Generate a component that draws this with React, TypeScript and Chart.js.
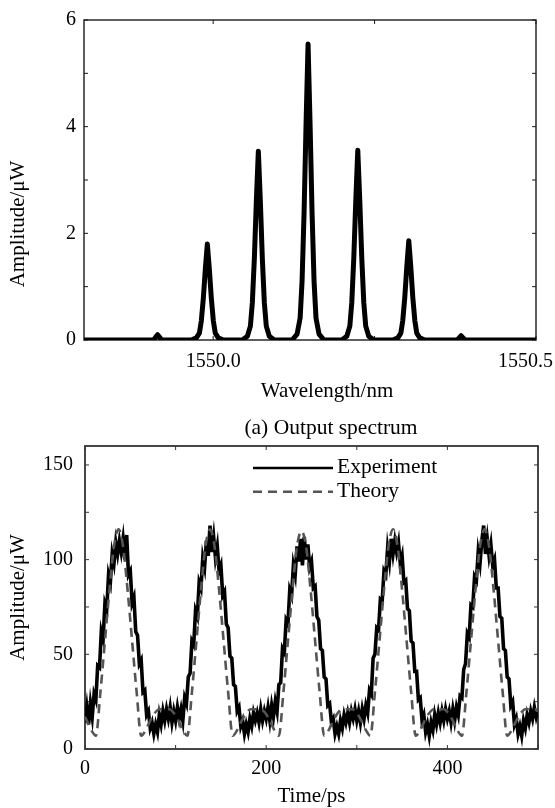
import React, { useEffect, useRef } from 'react';
import { Chart, registerables } from 'chart.js';

Chart.register(...registerables);

const FONT = "'Liberation Serif', 'Times New Roman', serif";

// ---------- (a) Output spectrum ----------
const SPEC_WAVELENGTH = [
  1549.8,
  1549.9078, 1549.9109, 1549.914, 1549.9171, 1549.9202,
  1549.9663, 1549.974, 1549.9787, 1549.9817, 1549.9848, 1549.9879, 1549.991, 1549.9941, 1549.9972, 1550.0003, 1550.0033, 1550.008, 1550.0157,
  1550.0453, 1550.053, 1550.0577, 1550.0607, 1550.0638, 1550.0669, 1550.07, 1550.0731, 1550.0762, 1550.0793, 1550.0823, 1550.087, 1550.0947,
  1550.1223, 1550.13, 1550.1347, 1550.1377, 1550.1408, 1550.1439, 1550.147, 1550.1501, 1550.1532, 1550.1563, 1550.1593, 1550.164, 1550.1717,
  1550.1993, 1550.207, 1550.2117, 1550.2147, 1550.2178, 1550.2209, 1550.224, 1550.2271, 1550.2302, 1550.2333, 1550.2363, 1550.241, 1550.2487,
  1550.2783, 1550.286, 1550.2907, 1550.2937, 1550.2968, 1550.2999, 1550.303, 1550.3061, 1550.3092, 1550.3123, 1550.3153, 1550.32, 1550.3277,
  1550.3778, 1550.3809, 1550.384, 1550.3871, 1550.3902,
  1550.5,
];
const SPEC_AMPLITUDE = [
  0,
  0, 0.05, 0.1, 0.05, 0,
  0, 0.04, 0.13, 0.36, 0.78, 1.33, 1.8, 1.33, 0.78, 0.36, 0.13, 0.04, 0,
  0, 0.07, 0.26, 0.7, 1.52, 2.6, 3.54, 2.6, 1.52, 0.7, 0.26, 0.07, 0,
  0, 0.11, 0.41, 1.1, 2.38, 4.05, 5.55, 4.05, 2.38, 1.1, 0.41, 0.11, 0,
  0, 0.07, 0.26, 0.7, 1.53, 2.61, 3.56, 2.61, 1.53, 0.7, 0.26, 0.07, 0,
  0, 0.04, 0.13, 0.37, 0.8, 1.37, 1.86, 1.37, 0.8, 0.37, 0.13, 0.04, 0,
  0, 0.04, 0.08, 0.04, 0,
  0,
];
const SPEC_X_MIN = 1549.8;
const SPEC_X_MAX = 1550.5;
const SPEC_Y_MIN = 0;
const SPEC_Y_MAX = 6;
const SPEC_X_TICKS = [1550.0, 1550.25, 1550.5];
const SPEC_X_LABELS = ['1550.0', '', '1550.5'];
const SPEC_Y_TICKS = [0, 1, 2, 3, 4, 5, 6];
const SPEC_Y_LABELS = ['0', '', '2', '', '4', '', '6'];

// ---------- Time domain ----------
const EXP_T0 = 0;
const EXP_DT = 2;
const EXP_AMPLITUDE = [
  14, 22, 13, 24, 17, 29, 26, 44, 43, 62, 58, 77, 74, 92, 88, 103, 98, 109, 103, 110, 104, 111, 100, 113, 92, 94, 77, 80, 62, 60, 45, 47, 30, 31, 18, 20, 11, 14, 8, 13, 9, 18, 13, 20,
  15, 21, 16, 22, 14, 20, 15, 22, 16, 21, 15, 27, 24, 38, 40, 57, 55, 73, 70, 88, 85, 101, 96, 110, 102, 118, 104, 112, 101, 107, 94, 97, 81, 83, 66, 64, 49, 48, 34, 33, 20, 22, 12, 15, 8, 13, 9, 16, 12, 19, 15,
  19, 14, 21, 15, 20, 16, 22, 15, 23, 17, 25, 20, 34, 35, 53, 51, 68, 66, 84, 81, 97, 92, 107, 99, 111, 97, 112, 100, 108, 96, 99, 85, 86, 70, 68, 53, 52, 38, 37, 23, 24, 14, 16, 8, 12, 8, 15, 11, 18, 14,
  19, 14, 20, 16, 21, 15, 20, 14, 21, 16, 23, 19, 31, 29, 48, 50, 64, 63, 79, 78, 94, 92, 106, 99, 111, 103, 110, 104, 109, 98, 102, 88, 89, 74, 73, 57, 56, 41, 41, 26, 27, 15, 18, 9, 13, 7, 14, 10, 18, 13, 19,
  14, 20, 15, 21, 16, 20, 14, 21, 15, 22, 18, 28, 27, 42, 45, 61, 59, 76, 75, 91, 89, 104, 98, 110, 118, 103, 111, 102, 108, 97, 100, 85, 85, 70, 69, 53, 52, 38, 37, 23, 25, 13, 16, 8, 12, 7, 15, 11, 18, 14,
  20, 16, 22, 17, 21,
];
const THEORY_T = [
  0, 2, 7, 12, 17, 22, 27, 32, 37, 42, 47, 52, 57, 62, 67, 72, 77, 82, 87,
  93, 98, 103, 108, 113, 118, 123, 128, 133, 138, 143, 148, 153, 158, 163, 168, 173, 178, 183, 188,
  194, 199, 204, 209, 214, 219, 224, 229, 234, 239, 244, 249, 254, 259, 264, 269, 274, 279, 284, 289,
  295, 300, 305, 310, 315, 320, 325, 330, 335, 340, 345, 350, 355, 360, 365, 370, 375, 380, 385, 390,
  396, 401, 406, 411, 416, 421, 426, 431, 436, 441, 446, 451, 456, 461, 466, 471, 476, 481, 486, 491, 496, 500,
];
const THEORY_AMPLITUDE = [
  17, 15, 10, 7, 30, 57, 84, 107, 116, 107, 84, 57, 30, 7, 10, 15, 19, 21, 21,
  21, 19, 15, 10, 7, 30, 57, 84, 107, 116, 107, 84, 57, 30, 7, 10, 15, 19, 21, 21,
  21, 19, 15, 10, 7, 30, 57, 84, 107, 115, 107, 84, 57, 30, 7, 10, 15, 19, 21, 21,
  21, 19, 15, 10, 7, 30, 57, 84, 107, 116, 107, 84, 57, 30, 7, 10, 15, 19, 21, 21,
  21, 19, 15, 10, 7, 30, 57, 84, 107, 116, 107, 84, 57, 30, 7, 10, 15, 19, 21, 21, 21, 20,
];
const TIME_X_MIN = 0;
const TIME_X_MAX = 500;
const TIME_Y_MIN = 0;
const TIME_Y_MAX = 160;
const TIME_X_TICKS = [0, 100, 200, 300, 400, 500];
const TIME_X_LABELS = ['0', '', '200', '', '400', ''];
const TIME_Y_TICKS = [0, 25, 50, 75, 100, 125, 150];
const TIME_Y_LABELS = ['0', '', '50', '', '100', '', '150'];
const SERIES_NAMES = ['Experiment', 'Theory'];

type FrameCfg = {
  border: string;
  borderWidth: number;
  tickLen: number;
  xTicks: number[];
  xLabels: string[];
  yTicks: number[];
  xLabelDy: number;
  xTitle: string;
  xTitleDx: number;
  xTitleDy: number;
  yTitle: string;
  yTitleX: number;
  yTitleDy: number;
  legend?: { x0: number; x1: number; textX: number; rows: number[]; size: number };
};

function framePlugin(f: FrameCfg) {
  return {
    id: 'frame',
    beforeDatasetsDraw(chart: any) {
      const { ctx, chartArea: a, scales } = chart;
      const xs = scales.x;
      const ys = scales.y;
      ctx.save();
      ctx.strokeStyle = f.border;
      ctx.lineWidth = f.borderWidth;
      ctx.strokeRect(a.left, a.top, a.right - a.left, a.bottom - a.top);
      ctx.lineWidth = 1;
      ctx.beginPath();
      for (const v of f.xTicks) {
        const px = xs.getPixelForValue(v);
        ctx.moveTo(px, a.bottom);
        ctx.lineTo(px, a.bottom - f.tickLen);
        ctx.moveTo(px, a.top);
        ctx.lineTo(px, a.top + f.tickLen);
      }
      for (const v of f.yTicks) {
        const py = ys.getPixelForValue(v);
        ctx.moveTo(a.left, py);
        ctx.lineTo(a.left + f.tickLen, py);
        ctx.moveTo(a.right, py);
        ctx.lineTo(a.right - f.tickLen, py);
      }
      ctx.stroke();
      ctx.restore();
    },
    afterDraw(chart: any) {
      const { ctx, chartArea: a, scales } = chart;
      const xs = scales.x;
      ctx.save();
      ctx.fillStyle = '#000';
      ctx.textBaseline = 'alphabetic';
      ctx.textAlign = 'center';
      ctx.font = `20px ${FONT}`;
      f.xTicks.forEach((v, i) => {
        const t = f.xLabels[i];
        if (!t) return;
        const w = ctx.measureText(t).width;
        let cx = xs.getPixelForValue(v);
        cx = Math.min(cx, chart.width - 2 - w / 2);
        ctx.fillText(t, cx, a.bottom + f.xLabelDy);
      });
      ctx.font = `21px ${FONT}`;
      ctx.fillText(f.xTitle, (a.left + a.right) / 2 + f.xTitleDx, a.bottom + f.xTitleDy);
      ctx.save();
      ctx.translate(f.yTitleX, (a.top + a.bottom) / 2 + f.yTitleDy);
      ctx.rotate(-Math.PI / 2);
      ctx.fillText(f.yTitle, 0, 0);
      ctx.restore();
      if (f.legend) {
        const L = f.legend;
        chart.data.datasets.forEach((ds: any, i: number) => {
          const y = a.top + L.rows[i];
          ctx.save();
          ctx.strokeStyle = ds.borderColor;
          ctx.lineWidth = ds.legendWidth || ds.borderWidth;
          ctx.setLineDash(ds.borderDash || []);
          ctx.beginPath();
          ctx.moveTo(a.left + L.x0, y);
          ctx.lineTo(a.left + L.x1, y);
          ctx.stroke();
          ctx.restore();
          ctx.font = `${L.size}px ${FONT}`;
          ctx.textAlign = 'left';
          ctx.fillText(ds.label, a.left + L.textX, y + 5);
        });
      }
      ctx.restore();
    },
  };
}

function tickSetter(values: number[]) {
  return (s: any) => {
    s.ticks = values.map((v) => ({ value: v }));
  };
}
function labeler(values: number[], labels: string[]) {
  return (value: any) => {
    const i = values.indexOf(Number(value));
    return i >= 0 ? labels[i] : '';
  };
}

function spectrumConfig(): any {
  return {
    type: 'line',
    data: {
      datasets: [
        {
          label: 'Spectrum',
          data: SPEC_WAVELENGTH.map((x, i) => ({ x, y: SPEC_AMPLITUDE[i] })),
          borderColor: '#000',
          borderWidth: 5,
          pointRadius: 0,
          tension: 0,
          fill: false,
          borderJoinStyle: 'round',
          borderCapStyle: 'round',
        },
      ],
    },
    options: {
      animation: false,
      responsive: false,
      events: [],
      layout: { autoPadding: false, padding: { left: 0, top: 13, right: 19, bottom: 0 } },
      plugins: { legend: { display: false }, tooltip: { enabled: false } },
      scales: {
        x: {
          type: 'linear',
          min: SPEC_X_MIN,
          max: SPEC_X_MAX,
          afterBuildTicks: tickSetter(SPEC_X_TICKS),
          ticks: { display: false },
          grid: { display: false, drawTicks: false },
          border: { display: false },
          afterFit: (s: any) => { s.height = 65; },
        },
        y: {
          type: 'linear',
          min: SPEC_Y_MIN,
          max: SPEC_Y_MAX,
          afterBuildTicks: tickSetter(SPEC_Y_TICKS),
          ticks: {
            callback: labeler(SPEC_Y_TICKS, SPEC_Y_LABELS),
            font: { family: FONT, size: 20 },
            color: '#000',
            padding: 8,
            autoSkip: false,
          },
          grid: { display: false, drawTicks: false },
          border: { display: false },
          afterFit: (s: any) => { s.width = 84; },
        },
      },
    },
    plugins: [
      framePlugin({
        border: '#1a1a1a',
        borderWidth: 1.4,
        tickLen: 4,
        xTicks: SPEC_X_TICKS,
        xLabels: SPEC_X_LABELS,
        yTicks: SPEC_Y_TICKS,
        xLabelDy: 27,
        xTitle: 'Wavelength/nm',
        xTitleDx: 17,
        xTitleDy: 57,
        yTitle: 'Amplitude/\u03bcW',
        yTitleX: 24,
        yTitleDy: 44,
      }),
    ],
  };
}

function timeConfig(): any {
  return {
    type: 'line',
    data: {
      datasets: [
        {
          label: SERIES_NAMES[0],
          data: EXP_AMPLITUDE.map((y, i) => ({ x: EXP_T0 + i * EXP_DT, y })),
          borderColor: '#000',
          borderWidth: 3.6,
          legendWidth: 2.5,
          pointRadius: 0,
          tension: 0,
          fill: false,
          order: 1,
        },
        {
          label: SERIES_NAMES[1],
          data: THEORY_T.map((x, i) => ({ x, y: THEORY_AMPLITUDE[i] })),
          borderColor: '#555555',
          borderWidth: 2.6,
          borderDash: [9, 6],
          pointRadius: 0,
          cubicInterpolationMode: 'monotone',
          fill: false,
          order: 0,
        },
      ],
    },
    options: {
      animation: false,
      responsive: false,
      events: [],
      layout: { autoPadding: false, padding: { left: 0, top: 41, right: 17, bottom: 0 } },
      plugins: { legend: { display: false }, tooltip: { enabled: false } },
      scales: {
        x: {
          type: 'linear',
          min: TIME_X_MIN,
          max: TIME_X_MAX,
          afterBuildTicks: tickSetter(TIME_X_TICKS),
          ticks: { display: false },
          grid: { display: false, drawTicks: false },
          border: { display: false },
          afterFit: (s: any) => { s.height = 59; },
        },
        y: {
          type: 'linear',
          min: TIME_Y_MIN,
          max: TIME_Y_MAX,
          afterBuildTicks: tickSetter(TIME_Y_TICKS),
          ticks: {
            callback: labeler(TIME_Y_TICKS, TIME_Y_LABELS),
            font: { family: FONT, size: 20 },
            color: '#000',
            padding: 12,
            autoSkip: false,
          },
          grid: { display: false, drawTicks: false },
          border: { display: false },
          afterFit: (s: any) => { s.width = 85; },
        },
      },
    },
    plugins: [
      framePlugin({
        border: '#333333',
        borderWidth: 1.8,
        tickLen: 4,
        xTicks: TIME_X_TICKS,
        xLabels: TIME_X_LABELS,
        yTicks: TIME_Y_TICKS,
        xLabelDy: 25,
        xTitle: 'Time/ps',
        xTitleDx: 0,
        xTitleDy: 53,
        yTitle: 'Amplitude/\u03bcW',
        yTitleX: 24,
        yTitleDy: 0,
        legend: { x0: 168, x1: 248, textX: 252, rows: [22, 45.7], size: 21.5 },
      }),
    ],
  };
}

function ChartCanvas({ make, top, height }: { make: () => any; top: number; height: number }) {
  const ref = useRef<HTMLCanvasElement | null>(null);
  useEffect(() => {
    const chart = new Chart(ref.current as HTMLCanvasElement, make());
    return () => chart.destroy();
  }, []);
  return (
    <canvas
      ref={ref}
      width={555}
      height={height}
      style={{ position: 'absolute', left: 0, top, width: 555, height, display: 'block' }}
    />
  );
}

export default function App() {
  return (
    <div style={{ position: 'absolute', left: 0, top: 0, width: 555, height: 808, background: '#fff', overflow: 'hidden' }}>
      <ChartCanvas make={spectrumConfig} top={0} height={405} />
      <ChartCanvas make={timeConfig} top={405} height={403} />
      <div
        style={{
          position: 'absolute',
          left: 331,
          top: 415,
          transform: 'translateX(-50%)',
          whiteSpace: 'nowrap',
          fontFamily: FONT,
          fontSize: 21.5,
          lineHeight: '24px',
          color: '#000',
        }}
      >
        (a) Output spectrum
      </div>
    </div>
  );
}
